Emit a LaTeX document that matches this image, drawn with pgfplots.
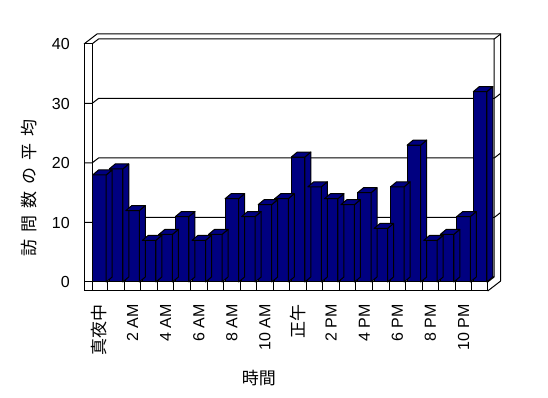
\documentclass[border=0pt]{standalone}
\usepackage{fontspec}
\setmainfont{Liberation Sans}
\newfontfamily\jp{Noto Sans CJK JP}
\usepackage{pgfplots}
\usepackage{pgfplotstable}
\pgfplotsset{compat=1.18}
\definecolor{barnavy}{RGB}{0,0,128}
\pgfdeclareplotmark{empty}{}
\pgfplotstableread{
x y
0 18
1 19
2 12
3 7
4 8
5 11
6 7
7 8
8 14
9 11
10 13
11 14
12 21
13 16
14 14
15 13
16 15
17 9
18 16
19 23
20 7
21 8
22 11
23 32
}\visits
\begin{document}
\begin{tikzpicture}
\begin{axis}[
  x=16.55pt, y=5.95pt,
  scale only axis,
  xmin=-6.0091, xmax=27.1027,
  ymin=-19.4958, ymax=47.395,
  hide axis,
  clip=false,
]
\fill[white] (-6.0091,-19.4958) rectangle (27.1027,47.395);
% walls
\draw[line width=1pt] (-0.9335,-1.513) -- (-0.9335,40);
\draw[line width=1pt] (-0.4502,0) -- (-0.4502,40);
\draw[line width=1pt] (-0.9335,40) -- (-0.4502,40);
\draw[line width=1pt] (-0.9335,40) -- (-0.1481,41.68) -- (24.243,41.68) -- (24.243,0.168);
\draw[line width=1pt] (-0.4502,40) -- (-0.0575,40.84) -- (23.85,40.84) -- (23.85,0.84);
\draw[line width=1pt] (23.85,40.84) -- (24.243,41.68);
\draw[line width=1pt] (-0.9335,10) -- (-0.4502,10) -- (-0.0575,10.84) -- (23.85,10.84) -- (24.243,11.68);
\draw[line width=1pt] (-0.9335,20) -- (-0.4502,20) -- (-0.0575,20.84) -- (23.85,20.84) -- (24.243,21.68);
\draw[line width=1pt] (-0.9335,30) -- (-0.4502,30) -- (-0.0575,30.84) -- (23.85,30.84) -- (24.243,31.68);
% floor
\draw[line width=1pt] (-0.4502,0) -- (-0.0575,0.84) -- (23.85,0.84);
\draw[line width=1pt] (23.458,0) -- (23.85,0.84);
\draw[line width=1pt] (23.458,-1.513) -- (24.243,0.168);
\draw[line width=1pt, fill=white] (-0.9335,-1.513) rectangle (23.458,0);
\draw[line width=1pt] (-0.4502,-1.513) -- (-0.4502,0);
\pgfplotsinvokeforeach{0,...,22}{
  \draw[line width=1pt] (#1+0.5,-1.513) -- (#1+0.5,0);
}
% bar extrusions (top and side faces)
\addplot[only marks, mark=empty, scatter,
  visualization depends on={rawy \as \h},
  scatter/@pre marker code/.code={%
    \pgfmathsetmacro\hh{-5.95*\h}%
    \pgfmathsetmacro\hb{5-5.95*\h}%
    \filldraw[fill=barnavy, draw=black, line width=1pt, line join=round]
      (6.75pt,0pt) -- (12.75pt,5pt) -- (12.75pt,\hb pt) -- (6.75pt,\hh pt) -- cycle;
    \filldraw[fill=barnavy, draw=black, line width=1pt, line join=round]
      (-6.75pt,0pt) -- (6.75pt,0pt) -- (12.75pt,5pt) -- (-0.75pt,5pt) -- cycle;
  },
  scatter/@post marker code/.code={},
] table {\visits};
% front faces
\addplot[ybar, bar width=13.5pt, fill=barnavy, draw=black, line width=1pt] table {\visits};
% y tick labels
\pgfplotsinvokeforeach{0,10,20,30,40}{
  \node[anchor=east, inner sep=0pt, font=\fontsize{16}{19}\selectfont] at (-1.78,#1) {#1};
}
% x tick labels
\node[rotate=90, anchor=east, inner sep=0pt, font=\jp\fontsize{17}{20}\selectfont] at (0,-3.7) {真夜中};
\node[rotate=90, anchor=east, inner sep=0pt, font=\fontsize{16}{19}\selectfont] at (2,-3.7) {2 AM};
\node[rotate=90, anchor=east, inner sep=0pt, font=\fontsize{16}{19}\selectfont] at (4,-3.7) {4 AM};
\node[rotate=90, anchor=east, inner sep=0pt, font=\fontsize{16}{19}\selectfont] at (6,-3.7) {6 AM};
\node[rotate=90, anchor=east, inner sep=0pt, font=\fontsize{16}{19}\selectfont] at (8,-3.7) {8 AM};
\node[rotate=90, anchor=east, inner sep=0pt, font=\fontsize{16}{19}\selectfont] at (10,-3.7) {10 AM};
\node[rotate=90, anchor=east, inner sep=0pt, font=\jp\fontsize{17}{20}\selectfont] at (12,-3.7) {正午};
\node[rotate=90, anchor=east, inner sep=0pt, font=\fontsize{16}{19}\selectfont] at (14,-3.7) {2 PM};
\node[rotate=90, anchor=east, inner sep=0pt, font=\fontsize{16}{19}\selectfont] at (16,-3.7) {4 PM};
\node[rotate=90, anchor=east, inner sep=0pt, font=\fontsize{16}{19}\selectfont] at (18,-3.7) {6 PM};
\node[rotate=90, anchor=east, inner sep=0pt, font=\fontsize{16}{19}\selectfont] at (20,-3.7) {8 PM};
\node[rotate=90, anchor=east, inner sep=0pt, font=\fontsize{16}{19}\selectfont] at (22,-3.7) {10 PM};
% axis titles
\node[rotate=90, inner sep=0pt, font=\jp\fontsize{17}{20}\selectfont] at (-4.2628,15.88)
  {訪\kern7pt 問\kern7pt 数\kern7pt の\kern7pt 平\kern7pt 均};
\node[inner sep=0pt, font=\jp\fontsize{17}{20}\selectfont] at (9.64,-16.13) {時間};
\end{axis}
\end{tikzpicture}
\end{document}
